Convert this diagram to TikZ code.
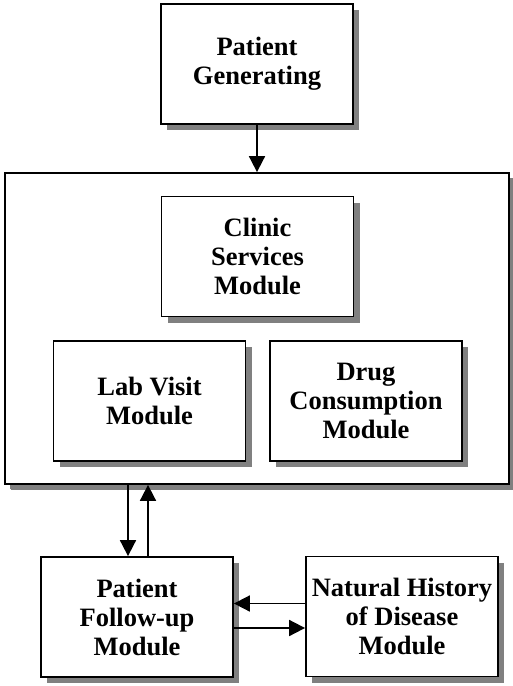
\documentclass[tikz,border=0pt]{standalone}
\usepackage{fontspec}
\setmainfont{Liberation Serif}
\usetikzlibrary{arrows.meta,shadows}

\begin{document}
\begin{tikzpicture}
    [ x=1pt, y=-1pt,
      box/.style={draw=black, fill=white, line width=1.8pt, align=center,
                  font=\fontsize{26.5}{29}\selectfont\bfseries,
                  drop shadow={shadow xshift=6pt, shadow yshift=-6pt, fill=black!50, opacity=1},
                  minimum width=192pt, minimum height=120pt, inner sep=0pt},
      frame/.style={box, minimum width=504pt, minimum height=311pt, drop shadow={shadow xshift=5pt, shadow yshift=-5pt, fill=black!50, opacity=1}},
      arrow/.style={black, line width=1.8pt, -{Triangle[width=16pt,length=16pt]}}]

  \useasboundingbox (0,0) rectangle (513,686);

%%%%%%%%%%%%%%%%%%%%%%%%%%%%%%%%%%%%%%%%%%%%%%%%%%%%%%%%%%%%%%%%%%%%%%%%%%%%%%%%%%%%%%%%%%%%%%%%%%%%%%%%%%
%modules

	  \node[box]   (gen)    at (257,64)    {Patient\\Generating};
	  \node[frame] (outer)  at (257,328.5) {};
	  \node[box]   (clinic) at (257.5,256.5) {Clinic\\Services\\Module};
	  \node[box]   (lab)    at (149.5,401) {Lab Visit\\Module};
	  \node[box]   (drug)   at (366,401)   {Drug\\Consumption\\Module};
	  \node[box]   (follow) at (137,617)   {Patient\\Follow-up\\Module};
	  \node[box]   (nat)    at (402,616.5) {Natural History\\of Disease\\Module};

%%%%%%%%%%%%%%%%%%%%%%%%%%%%%%%%%%%%%%%%%%%%%%%%%%%%%%%%%%%%%%%%%%%%%%%%%%%%%%%%%%%%%%%%%%%%%%%%%%%%%%%%%%
%connections

	  \draw[arrow] (gen) -- (outer);
	  \draw[arrow] ([xshift=-9pt]follow.north |- outer.south) -- ([xshift=-9pt]follow.north);
	  \draw[arrow] ([xshift=11pt]follow.north) -- ([xshift=11pt]follow.north |- outer.south);
	  \draw[arrow] ([yshift=13pt]nat.west) -- ([yshift=13pt]nat.west -| follow.east);
	  \draw[arrow] ([yshift=-11pt]follow.east) -- ([yshift=-11pt]follow.east -| nat.west);

\end{tikzpicture}
\end{document}
